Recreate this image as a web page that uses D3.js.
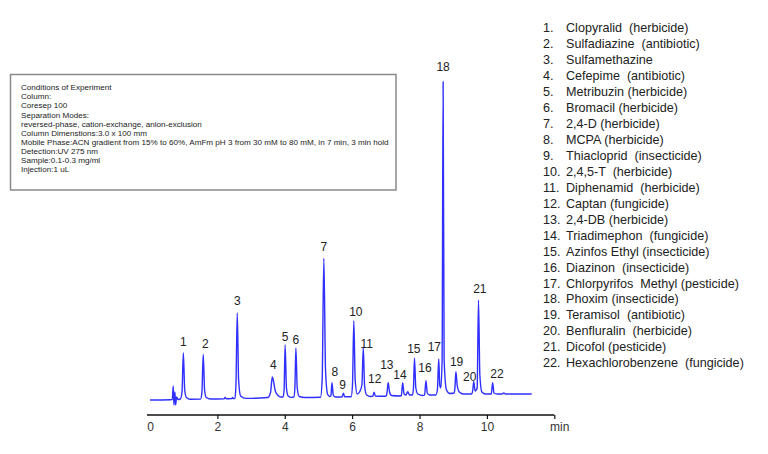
<!DOCTYPE html>
<html>
<head>
<meta charset="utf-8">
<script src="https://cdn.jsdelivr.net/npm/d3@7"></script>
<style>
  html, body { margin: 0; padding: 0; background: #fff; }
  svg { display: block; }
  text { font-family: "Liberation Sans", Arial, sans-serif; }
</style>
</head>
<body>
<svg id="chart" width="768" height="454"></svg>
<script>
// ---- data ----
const traceTime = [0, 0.6, 0.66, 0.69, 0.71, 0.74, 0.76, 0.79, 0.83,
  0.9, 0.95, 0.99, 1.03, 1.08, 1.2,
  1.5, 1.54, 1.58, 1.62, 1.67, 1.8,
  2.2, 2.23, 2.27, 2.42, 2.45, 2.48,
  2.52, 2.55, 2.59, 2.63, 2.69, 2.85,
  3.5, 3.58, 3.63, 3.67, 3.72, 3.8, 3.88,
  3.95, 3.98, 4.01, 4.05, 4.1, 4.2,
  4.27, 4.3, 4.33, 4.37, 4.43, 4.6,
  5.06, 5.11, 5.16, 5.21, 5.27, 5.33,
  5.37, 5.4, 5.44, 5.5,
  5.7, 5.74, 5.78,
  5.97, 6.01, 6.05, 6.09, 6.15, 6.22,
  6.29, 6.33, 6.37, 6.43, 6.55,
  6.61, 6.65, 6.69, 6.9,
  7.01, 7.04, 7.07, 7.11, 7.17, 7.4,
  7.46, 7.5, 7.54, 7.6, 7.65, 7.7,
  7.79, 7.82, 7.85, 7.89, 7.95, 8.1,
  8.15, 8.19, 8.23, 8.3, 8.48,
  8.53, 8.57, 8.6, 8.63,
  8.67, 8.7, 8.73, 8.8, 8.9,
  9.03, 9.05, 9.08, 9.12, 9.18, 9.3,
  9.55, 9.58, 9.61, 9.65, 9.68,
  9.71, 9.75, 9.79, 9.85, 9.95,
  10.13, 10.17, 10.21, 10.3,
  10.45, 10.5, 10.55, 11.33];
const traceSignal = [0, 0.3, 0.4, 14, -5, 8, -5, 3, 0.5,
  1, 8, 47, 10, 2.5, 0.8,
  0.9, 7, 45.5, 10, 2.5, 1,
  1.2, 2.5, 1.2, 1.4, 2.5, 1.4,
  1.5, 14, 87, 20, 4, 1.6,
  2.5, 8, 23, 18, 9, 4.5, 3,
  3, 10, 55, 12, 4, 2.6,
  3, 12, 51.7, 12, 3.5, 2.5,
  2.7, 20, 141.7, 30, 6, 3.5,
  4, 17.3, 5, 3,
  3, 6.7, 3.2,
  3.2, 15, 79.3, 20, 6, 8,
  15, 52, 14, 5, 3.5,
  3.6, 7.7, 4, 3.7,
  4, 9, 17.3, 8, 4.5, 4,
  4.5, 17.3, 6, 5, 8.3, 5,
  5, 12, 41.7, 12, 6, 4.5,
  5, 19.3, 7, 5, 5,
  10, 41, 15, 12,
  40, 318.3, 40, 10, 6.5,
  7, 12, 28.3, 14, 8, 6,
  6, 10, 18.3, 9, 10,
  12, 100, 25, 8, 6,
  6, 17.3, 7, 6,
  6, 7, 6, 6];

const peakNumbers = ["1","2","3","4","5","6","7","8","9","10","11","12","13","14","15","16","17","18","19","20","21","22"];
const labelTime   = [0.99, 1.64, 2.59, 3.66, 4.01, 4.33, 5.16, 5.49, 5.72, 6.11, 6.43, 6.67, 7.03, 7.42, 7.83, 8.16, 8.44, 8.7, 9.1, 9.49, 9.79, 10.3];
const labelSignal = [58.3, 56, 99.3, 35, 63.3, 60.7, 153.3, 28.3, 15.7, 88.3, 56.3, 21.7, 35.7, 25.7, 51.7, 32.3, 53.3, 333.3, 38.3, 23.3, 111.7, 26.7];

const xTicks = [0, 2, 4, 6, 8, 10, 12];
const xTickLabels = ["0", "2", "4", "6", "8", "10", "min"];

const compoundNames = [
  "Clopyralid  (herbicide)", "Sulfadiazine  (antibiotic)", "Sulfamethazine",
  "Cefepime  (antibiotic)", "Metribuzin (herbicide)", "Bromacil (herbicide)",
  "2,4-D (herbicide)", "MCPA (herbicide)", "Thiacloprid  (insecticide)",
  "2,4,5-T  (herbicide)", "Diphenamid  (herbicide)", "Captan (fungicide)",
  "2,4-DB (herbicide)", "Triadimephon  (fungicide)", "Azinfos Ethyl (insecticide)",
  "Diazinon  (insecticide)", "Chlorpyrifos  Methyl (pesticide)", "Phoxim (insecticide)",
  "Teramisol  (antibiotic)", "Benfluralin  (herbicide)", "Dicofol (pesticide)",
  "Hexachlorobenzene  (fungicide)"];

const conditionLines = [
  "Conditions of Experiment", "Column:", "Coresep 100", "Separation Modes:",
  "reversed-phase, cation-exchange, anion-exclusion",
  "Column Dimenstions:3.0 x 100 mm",
  "Mobile Phase:ACN gradient from 15% to 60%, AmFm pH 3 from 30 mM to 80 mM, in 7 min, 3 min hold",
  "Detection:UV 275 nm", "Sample:0.1-0.3 mg/ml", "Injection:1 uL"];

// ---- drawing ----
const svg = d3.select("#chart");
const x = d3.scaleLinear().domain([0, 12]).range([150, 554.3]);
const y = d3.scaleLinear().domain([0, 320]).range([400, 80]);

// conditions box
const box = svg.append("g");
box.append("rect").attr("x", 10.5).attr("y", 74.5).attr("width", 385.5).attr("height", 115.5)
  .attr("fill", "none").attr("stroke", "#8a8a8a").attr("stroke-width", 1.5);
box.selectAll("text").data(conditionLines).join("text")
  .attr("x", 21).attr("y", (d, i) => 90.3 + i * 9.08)
  .attr("font-size", 8.1).attr("fill", "#222").text(d => d);

// trace
const pts = traceTime.map((t, i) => [t, traceSignal[i]]);
svg.append("path").datum(pts)
  .attr("fill", "none").attr("stroke", "#2f2fff").attr("stroke-width", 1.4)
  .attr("stroke-linejoin", "round")
  .attr("d", d3.line().x(d => x(d[0])).y(d => y(d[1])).curve(d3.curveMonotoneX));

// peak labels
svg.append("g").selectAll("text").data(peakNumbers).join("text")
  .attr("x", (d, i) => x(labelTime[i])).attr("y", (d, i) => y(labelSignal[i]))
  .attr("dy", "0.35em").attr("text-anchor", "middle")
  .attr("font-size", 12).attr("fill", "#222").text(d => d);

// x axis
const axis = d3.axisBottom(x).tickValues(xTicks)
  .tickFormat((d, i) => xTickLabels[i]).tickSize(4).tickSizeOuter(0).tickPadding(3);
const ax = svg.append("g").attr("transform", "translate(0,415)").call(axis);
ax.select(".domain").attr("stroke", "#111").attr("stroke-width", 1.5)
  .attr("d", `M${x(0) - 3},0H${x(12)}`);
ax.selectAll(".tick line").attr("stroke", "#111").attr("stroke-width", 1.2)
  .filter(d => d === 0).remove();
ax.selectAll(".tick text").attr("font-size", 12).attr("fill", "#333")
  .attr("font-family", "'Liberation Sans', Arial, sans-serif");
ax.selectAll(".tick").filter(d => d === 12).select("text")
  .attr("text-anchor", "start").attr("dx", "-0.4em");

// legend
const leg = svg.append("g").attr("font-size", 12.6).attr("fill", "#222");
leg.selectAll("text.num").data(peakNumbers).join("text").attr("class", "num")
  .attr("x", 543).attr("y", (d, i) => 32 + i * 15.97).text(d => d + ".");
leg.selectAll("text.name").data(compoundNames).join("text").attr("class", "name")
  .attr("x", 566).attr("y", (d, i) => 32 + i * 15.97)
  .attr("xml:space", "preserve").style("white-space", "pre").text(d => d);
</script>
</body>
</html>
